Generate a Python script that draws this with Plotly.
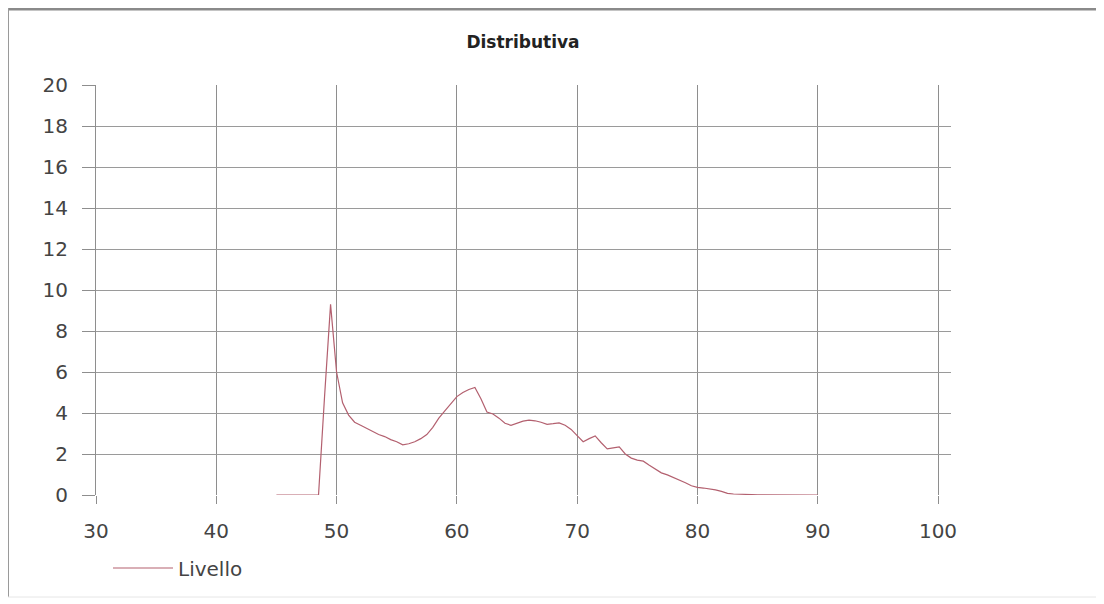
import plotly.graph_objects as go

# Data
x_values = [45, 45.5, 46, 46.5, 47, 47.5, 48, 48.5, 49, 49.5, 50, 50.5, 51, 51.5, 52, 52.5,
            53, 53.5, 54, 54.5, 55, 55.5, 56, 56.5, 57, 57.5, 58, 58.5, 59, 59.5, 60, 60.5,
            61, 61.5, 62, 62.5, 63, 63.5, 64, 64.5, 65, 65.5, 66, 66.5, 67, 67.5, 68, 68.5,
            69, 69.5, 70, 70.5, 71, 71.5, 72, 72.5, 73, 73.5, 74, 74.5, 75, 75.5, 76, 76.5,
            77, 77.5, 78, 78.5, 79, 79.5, 80, 80.5, 81, 81.5, 82, 82.5, 83, 83.5, 84, 84.5,
            85, 85.5, 86, 86.5, 87, 87.5, 88, 88.5, 89, 89.5, 90]
livello = [0, 0, 0, 0, 0, 0, 0, 0, 4.8, 9.3, 6.0, 4.5, 3.9, 3.55, 3.4, 3.25,
           3.1, 2.95, 2.85, 2.7, 2.6, 2.45, 2.5, 2.6, 2.75, 2.95, 3.3, 3.75, 4.1, 4.45, 4.8, 5.0,
           5.15, 5.25, 4.7, 4.05, 3.95, 3.75, 3.5, 3.4, 3.5, 3.6, 3.65, 3.62, 3.55, 3.45, 3.48, 3.52,
           3.4, 3.2, 2.9, 2.6, 2.75, 2.88, 2.55, 2.25, 2.3, 2.35, 2.0, 1.8, 1.7, 1.65, 1.45, 1.25,
           1.08, 0.98, 0.86, 0.72, 0.6, 0.45, 0.37, 0.34, 0.3, 0.25, 0.18, 0.08, 0.05, 0.03, 0.02, 0.02,
           0.01, 0.01, 0.01, 0.01, 0.0, 0.0, 0.0, 0.0, 0.0, 0.0, 0]

x_ticks = [30, 40, 50, 60, 70, 80, 90, 100]
y_ticks = [0, 2, 4, 6, 8, 10, 12, 14, 16, 18, 20]

OFF = 8  # page body margin
W, H = 1104 - OFF, 604 - OFF
L, T = 96 - OFF, 85 - OFF
R = W - (951 - OFF)
B = H - (495 - OFF)
pw, ph = W - L - R, H - T - B

def px_x(p):
    return (p - OFF - L) / pw

def px_y(p):
    return (H - B - (p - OFF)) / ph

fig = go.Figure()
fig.add_trace(go.Scatter(
    x=x_values, y=livello, mode="lines", name="Livello",
    line=dict(color="#b3606f", width=1.2),
))

fig.update_layout(
    width=W, height=H,
    margin=dict(l=L, r=R, t=T, b=B),
    paper_bgcolor="white", plot_bgcolor="white",
    title=dict(text="<b>Distributiva</b>", xref="container", x=(523 - OFF) / W,
               xanchor="center", yref="container", y=1 - (42 - OFF) / H, yanchor="middle",
               font=dict(family="DejaVu Sans", size=17, color="#222222")),
    font=dict(family="DejaVu Sans", color="#444444"),
    showlegend=True,
    legend=dict(x=px_x(108), xanchor="left", y=px_y(568), yanchor="middle",
                itemwidth=60,
                font=dict(family="DejaVu Sans", size=20, color="#444444"),
                bgcolor="rgba(0,0,0,0)"),
    xaxis=dict(range=[30, 101.08], tickvals=x_ticks, showgrid=True, gridcolor="#8e8e8e",
               gridwidth=1, zeroline=False, ticks="outside", ticklen=8, tickcolor="#8e8e8e",
               showline=False, ticklabelstandoff=10,
               tickfont=dict(size=20, color="#444444")),
    yaxis=dict(range=[0, 20], tickvals=y_ticks, showgrid=True, gridcolor="#9a9a9a",
               gridwidth=1, zeroline=False, ticks="outside", ticklen=13, tickcolor="#8e8e8e",
               showline=True, linecolor="#8e8e8e", linewidth=1, ticklabelstandoff=10,
               tickfont=dict(size=20, color="#444444")),
)

# chart-area border
fig.add_shape(type="line", xref="paper", yref="paper", x0=px_x(6), x1=px_x(1104),
              y0=px_y(9), y1=px_y(9), line=dict(color="#8a8a8a", width=3))
fig.add_shape(type="line", xref="paper", yref="paper", x0=px_x(8), x1=px_x(8),
              y0=px_y(8), y1=px_y(597), line=dict(color="#9a9a9a", width=2))
fig.add_shape(type="line", xref="paper", yref="paper", x0=px_x(8), x1=px_x(1104),
              y0=px_y(597), y1=px_y(597), line=dict(color="#e6e6e6", width=1))

fig.write_html("out.html")
